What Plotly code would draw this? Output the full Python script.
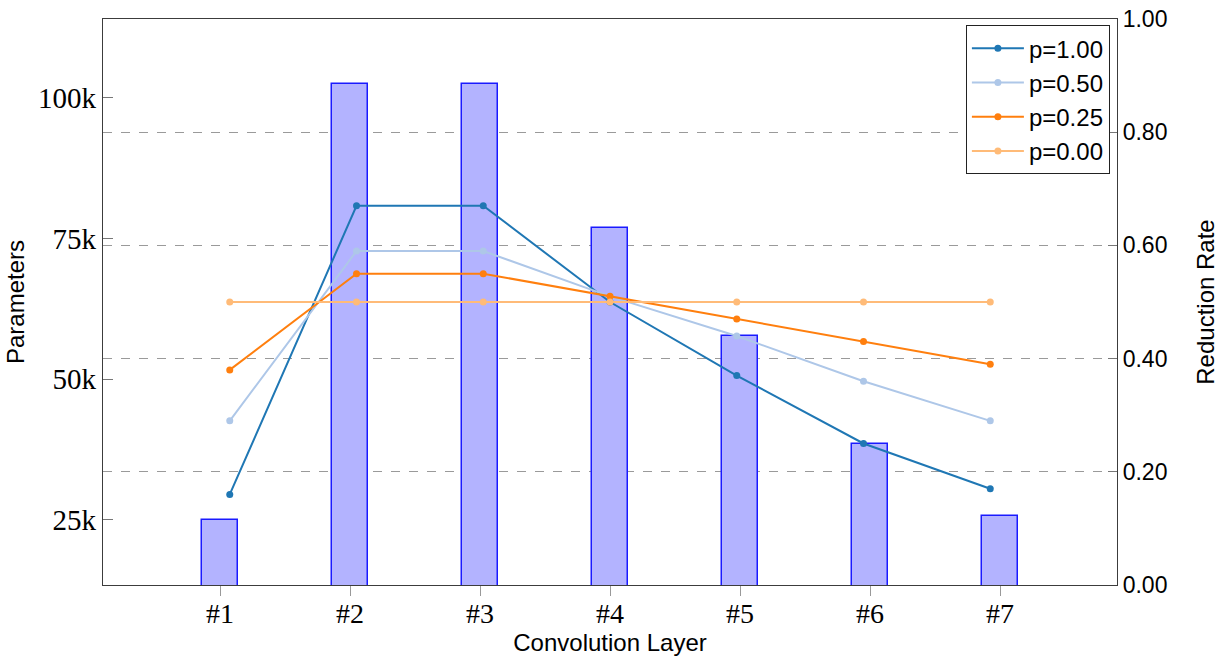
import plotly.graph_objects as go

# ---- data ----
layers = ["#1", "#2", "#3", "#4", "#5", "#6", "#7"]
layer_pos = [1, 2, 3, 4, 5, 6, 7]
parameters = [25000, 102400, 102400, 76800, 57600, 38400, 25600]

rate_p100 = [0.16, 0.67, 0.67, 0.50, 0.37, 0.25, 0.17]
rate_p050 = [0.29, 0.59, 0.59, 0.51, 0.44, 0.36, 0.29]
rate_p025 = [0.38, 0.55, 0.55, 0.51, 0.47, 0.43, 0.39]
rate_p000 = [0.50, 0.50, 0.50, 0.50, 0.50, 0.50, 0.50]

series = [
    ("p=1.00", rate_p100, "#1f77b4"),
    ("p=0.50", rate_p050, "#aec7e8"),
    ("p=0.25", rate_p025, "#ff7f0e"),
    ("p=0.00", rate_p000, "#ffbb78"),
]

left_ticks = [25000, 50000, 75000, 100000]
left_ticktext = ["25k", "50k", "75k", "100k"]
right_ticks = [0.0, 0.2, 0.4, 0.6, 0.8, 1.0]

SANS = "Liberation Sans, Arial, sans-serif"
SERIF = "Liberation Serif, Times New Roman, serif"
AXIS_COL = "#3c3c3c"

fig = go.Figure()

fig.add_trace(go.Bar(
    x=layer_pos, y=parameters, width=0.277,
    marker=dict(color="#b3b3ff", line=dict(color="#1a1aff", width=1.5)),
    showlegend=False, xaxis="x", yaxis="y",
))

for name, vals, col in series:
    fig.add_trace(go.Scatter(
        x=layer_pos, y=vals, name=name, mode="lines+markers",
        line=dict(color=col, width=2),
        marker=dict(color=col, size=7),
        xaxis="x2", yaxis="y2",
    ))

fig.update_layout(
    width=1224, height=657,
    margin=dict(l=103, r=107, t=19, b=72, autoexpand=False),
    paper_bgcolor="white", plot_bgcolor="white",
    showlegend=True,
    legend=dict(
        x=0.993, y=0.989, xanchor="right", yanchor="top",
        bgcolor="white", bordercolor="#222222", borderwidth=1,
        font=dict(family=SANS, size=24, color="black"),
        tracegroupgap=0, itemwidth=52,
    ),
    xaxis=dict(
        range=[0.1, 7.9], tickmode="array", tickvals=layer_pos, ticktext=layers,
        showline=True, linecolor=AXIS_COL, linewidth=1.2, mirror=True,
        ticks="outside", ticklen=10, tickcolor="#999999",
        ticklabelstandoff=-7,
        showgrid=False, zeroline=False, automargin=False,
        tickfont=dict(family=SERIF, size=28, color="black"),
        title=dict(text="Convolution Layer", font=dict(family=SANS, size=24, color="black"), standoff=0),
    ),
    xaxis2=dict(range=[0, 8], overlaying="x", visible=False),
    yaxis=dict(
        range=[13400, 114000], tickmode="array", tickvals=left_ticks, ticktext=left_ticktext,
        showline=True, linecolor=AXIS_COL, linewidth=1.2,
        ticks="inside", ticklen=10, tickcolor="#777777",
        showgrid=False, zeroline=False, automargin=False,
        tickfont=dict(family=SERIF, size=29, color="black"),
        title=dict(text="Parameters", font=dict(family=SANS, size=24, color="black"), standoff=6),
    ),
    yaxis2=dict(
        range=[0, 1], overlaying="y", side="right", tickmode="array", tickvals=right_ticks,
        tickformat=".2f", automargin=False,
        showline=True, linecolor=AXIS_COL, linewidth=1.2,
        ticks="inside", ticklen=9, tickcolor="#777777",
        showgrid=True, gridcolor="#9a9a9a", griddash="dash", gridwidth=1.2,
        zeroline=False,
        tickfont=dict(family=SANS, size=23, color="black"),
        title=dict(text="Reduction Rate", font=dict(family=SANS, size=24, color="black"), standoff=30),
    ),
    bargap=0,
)

fig.write_html("out.html")
